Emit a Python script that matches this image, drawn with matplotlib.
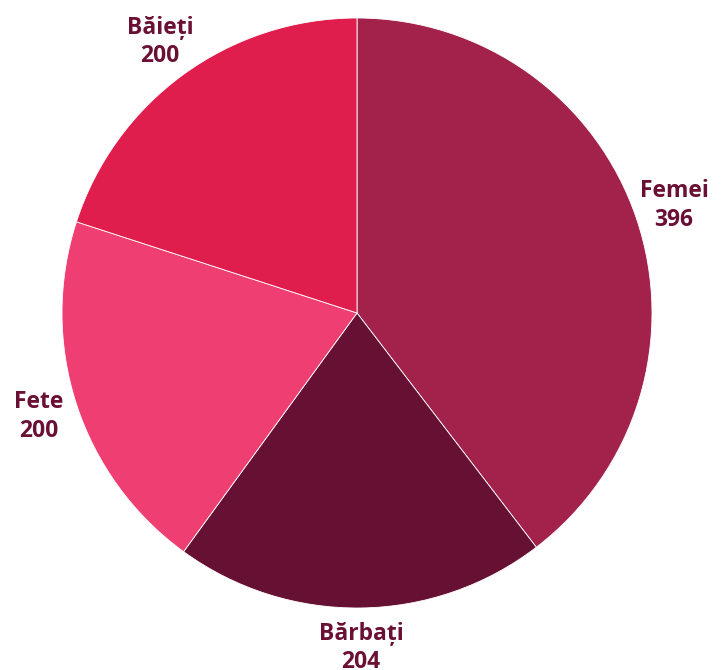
import numpy as np
import matplotlib.pyplot as plt

categories = ['Femei', 'Bărbați', 'Fete', 'Băieți']
values = [396, 204, 200, 200]
colors = ['#a3224c', '#661034', '#ee3e72', '#e01e4d']
label_color = '#6b1035'

plt.rcParams['font.family'] = ['Open Sans', 'DejaVu Sans']

fig = plt.figure(figsize=(7.28, 6.70), dpi=100)
ax = fig.add_axes([0, 0, 1, 1])

center = (357, 357)
radius = 295
wedges, _ = ax.pie(values, colors=colors, startangle=90, counterclock=False,
                   center=center, radius=radius, frame=True,
                   wedgeprops=dict(edgecolor='white', linewidth=0.6))
ax.set_xlim(0, 728)
ax.set_ylim(0, 670)
ax.set_aspect('equal')
ax.axis('off')

# labels outside each slice, centred on the mid angle
for w, name, v in zip(wedges, categories, values):
    ang = np.deg2rad((w.theta1 + w.theta2) / 2)
    x = center[0] + 1.135 * radius * np.cos(ang)
    y = center[1] + 1.135 * radius * np.sin(ang)
    ax.text(x, y, f'{name}\n{v}', ha='center', va='center', color=label_color,
            fontsize=16.5, fontweight='bold', linespacing=1.25)

plt.savefig('out.png', dpi=100)
